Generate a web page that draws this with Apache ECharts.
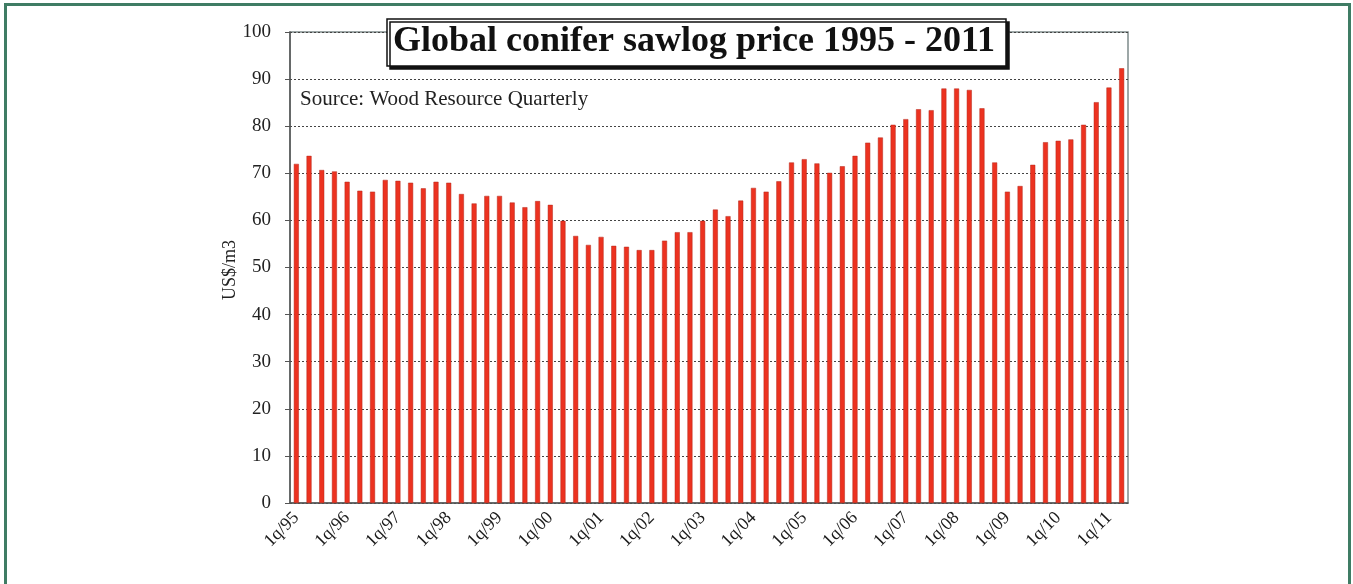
<!DOCTYPE html>
<html>
<head>
<meta charset="utf-8">
<script src="https://cdn.jsdelivr.net/npm/echarts@6/dist/echarts.min.js"></script>
<style>
  html, body { margin: 0; padding: 0; background: #fff; }
  #chart { position: absolute; left: 0; top: 0; width: 1353px; height: 584px; }
  #frame { position: absolute; left: 4px; top: 3px; width: 1341px; height: 600px;
           border: 3px solid #3f7c64; pointer-events: none; }
</style>
</head>
<body>
<div id="chart"></div>
<div id="frame"></div>
<script>
// quarterly price, US$/m3, 1q/95 .. 2q/11
const years = [1995, 1996, 1997, 1998, 1999, 2000, 2001, 2002, 2003, 2004, 2005, 2006, 2007, 2008, 2009, 2010, 2011]
const prices = [
  72.0, 73.7, 70.7, 70.4, 68.2, 66.3, 66.1, 68.6, 68.4, 68.0,
  66.8, 68.2, 68.0, 65.6, 63.6, 65.2, 65.2, 63.8, 62.8, 64.1,
  63.3, 59.9, 56.7, 54.8, 56.5, 54.6, 54.4, 53.7, 53.7, 55.7,
  57.5, 57.5, 59.9, 62.3, 60.9, 64.2, 66.9, 66.1, 68.3, 72.3,
  73.0, 72.1, 70.1, 71.5, 73.7, 76.5, 77.6, 80.3, 81.5, 83.6,
  83.4, 88.0, 88.0, 87.7, 83.8, 72.3, 66.1, 67.3, 71.8, 76.6,
  76.9, 77.2, 80.3, 85.1, 88.2, 92.3
]

// category labels like 1q/95, 2q/95 ...
let quarters = []
years.forEach(y => {
  for (let q = 1; q <= 4; q++) quarters.push(q + 'q/' + String(y).slice(2))
})
quarters = quarters.slice(0, prices.length)

const serif = '"Liberation Serif", "DejaVu Serif", serif'

let myChart = echarts.init(document.getElementById('chart'))
myChart.setOption({
  animation: false,
  title: [{
    text: 'Global conifer sawlog price 1995 - 2011',
    left: 387,
    top: 19,
    padding: [5, 11, 6, 6],
    backgroundColor: '#fff',
    borderColor: '#111',
    borderWidth: 1.5,
    shadowColor: '#111',
    shadowOffsetX: 3,
    shadowOffsetY: 3,
    shadowBlur: 0,
    textStyle: { fontFamily: serif, fontWeight: 'bold', fontSize: 36, color: '#111' }
  }, {
    text: 'Source: Wood Resource Quarterly',
    left: 300,
    top: 89,
    padding: 0,
    textStyle: { fontFamily: serif, fontWeight: 'normal', fontSize: 21, color: '#222' }
  }],
  // y axis title, rotated
  graphic: [{
    type: 'text',
    x: 230,
    y: 270,
    rotation: Math.PI / 2,
    style: {
      text: 'US$/m3',
      font: '18px "Liberation Serif", serif',
      fill: '#222',
      textAlign: 'center',
      textVerticalAlign: 'middle'
    }
  }],
  grid: {
    left: 290, right: 225, top: 32, bottom: 81,
    show: true, borderColor: '#7d8a8a', borderWidth: 1.5, backgroundColor: 'transparent'
  },
  xAxis: {
    type: 'category',
    data: quarters,
    axisLine: { lineStyle: { color: '#555', width: 1.5 } },
    axisTick: { interval: 3, length: 4, lineStyle: { color: '#555' } },
    axisLabel: {
      interval: 3, rotate: 45, margin: 12,
      fontFamily: serif, fontSize: 18, color: '#1a1a1a'
    }
  },
  yAxis: {
    type: 'value',
    min: 0, max: 100, interval: 10,
    axisLine: { show: true, lineStyle: { color: '#555', width: 1.5 } },
    axisTick: { show: true, length: 5, lineStyle: { color: '#555' } },
    axisLabel: { margin: 19, fontFamily: serif, fontSize: 19, color: '#222' },
    splitLine: { lineStyle: { color: '#444', type: [2, 2], width: 1 } }
  },
  series: [{
    type: 'bar',
    data: prices,
    barWidth: 5,
    itemStyle: { color: '#ec3220', borderColor: '#b4281a', borderWidth: 0.5 }
  }]
})
</script>
</body>
</html>
